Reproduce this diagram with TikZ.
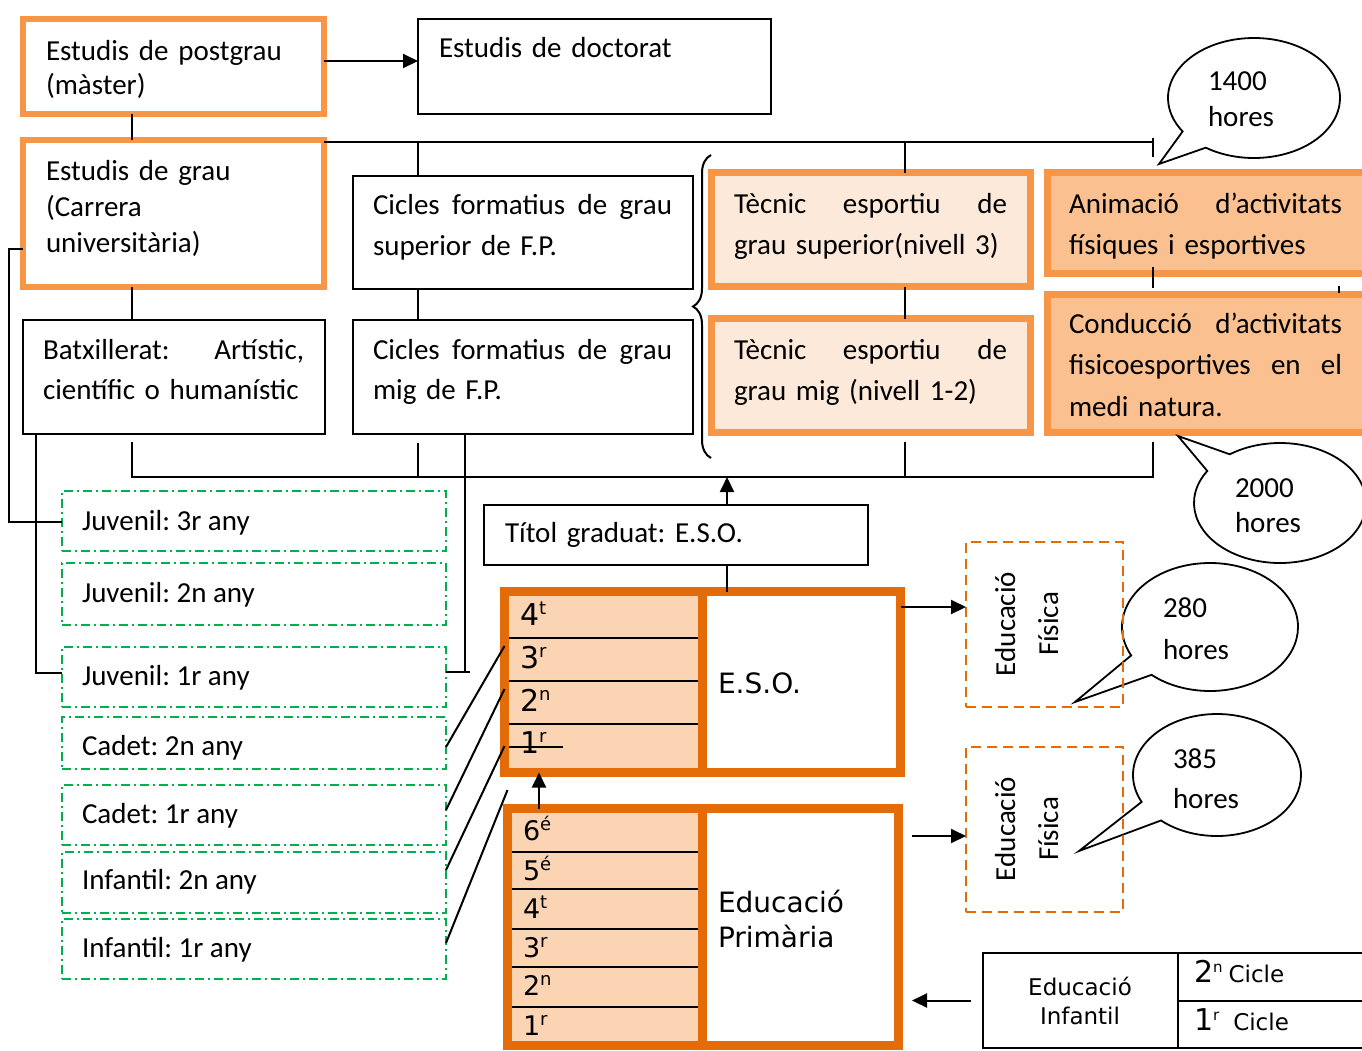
\documentclass[tikz,border=0pt]{standalone}
\usepackage{fontspec}
\setmainfont{Carlito}
\newfontfamily\verd{DejaVu Sans}
\usetikzlibrary{arrows.meta,shapes.callouts,decorations.pathreplacing,calc}
\definecolor{orL}{HTML}{F79646}
\definecolor{orD}{HTML}{E36C09}
\definecolor{pkL}{HTML}{FDE9D9}
\definecolor{pkM}{HTML}{FAC08F}
\definecolor{pkE}{HTML}{FBD4B4}
\definecolor{grn}{HTML}{00B050}
\newcommand\fs[2]{\fontsize{#1}{#2}\selectfont}
% raised ordinal suffix
\newcommand\sy[2][11pt]{\raisebox{#1}{\fs{18}{18}#2}}
% line spread to a fixed width
\newcommand\jline[2]{\leavevmode\hbox to #1{#2}}
\begin{document}
\frenchspacing
\lineskiplimit=-60pt
\begin{tikzpicture}[x=1pt,y=-1pt,
  font=\fs{29}{36},
  plain/.style={draw=black,line width=2pt,inner sep=0pt,outer sep=0pt,fill=white},
  orbox/.style={draw=orL,line width=6pt,inner sep=0pt,outer sep=0pt,fill=white},
  tbox/.style={draw=orL,line width=7pt,inner sep=0pt,outer sep=0pt,fill=pkL},
  abox/.style={draw=orL,line width=7pt,inner sep=0pt,outer sep=0pt,fill=pkM},
  ebox/.style={draw=orD,line width=9pt,inner sep=0pt,outer sep=0pt,fill=white},
  efbox/.style={draw=orD,line width=2pt,dash pattern=on 10pt off 6pt,inner sep=0pt,outer sep=0pt},
  gbox/.style={draw=grn,line width=2pt,dash pattern=on 9pt off 4pt on 2pt off 4pt,inner sep=0pt,outer sep=0pt,minimum width=384pt},
  bubble/.style={ellipse callout,draw=black,line width=1.8pt,fill=white,inner sep=0pt,outer sep=0pt,callout pointer arc=22},
  txt/.style={inner sep=0pt,outer sep=0pt,anchor=base west,text width=330pt},
  gtxt/.style={inner sep=0pt,outer sep=0pt,anchor=base west},
  vtxt/.style={inner sep=0pt,outer sep=0pt,anchor=base west,font=\verd\fs{30}{36}},
  ptxt/.style={inner sep=0pt,outer sep=0pt,anchor=base west,font=\verd\fs{27}{36}},
  rtxt/.style={inner sep=0pt,outer sep=0pt,anchor=base,rotate=90},
  wire/.style={line width=2pt},
  arr/.style={line width=2pt,-{Triangle[length=15pt,width=14pt]}},
]
\useasboundingbox (0,0) rectangle (1362,1050);
\clip (0,0) rectangle (1362,1050);

% ---------- upper boxes ----------
\node[orbox,minimum width=301pt,minimum height=95pt] (post) at (173.5,66.5) {};
\node[plain,minimum width=353pt,minimum height=95pt] (doct) at (594.5,66.5) {};
\node[orbox,minimum width=301pt,minimum height=147pt] (grau) at (173.5,213.5) {};
\node[plain,minimum width=340pt,minimum height=113pt] (cfs) at (523,232.5) {};
\node[plain,minimum width=340pt,minimum height=114pt] (cfm) at (523,377) {};
\node[plain,minimum width=302pt,minimum height=114pt] (batx) at (174,377) {};
\node[tbox,minimum width=319pt,minimum height=114pt] (tsup) at (871,229.5) {};
\node[tbox,minimum width=319pt,minimum height=114pt] (tmig) at (871,375.5) {};
\node[abox,minimum width=333pt,minimum height=101pt] (anim) at (1214,223) {};
\node[abox,minimum width=333pt,minimum height=138pt] (cond) at (1214,363.5) {};
\node[plain,minimum width=384pt,minimum height=60pt] (titol) at (676,535) {};

\node[txt,font=\fs{29}{34}] (tpost) at (46,60) {Estudis de postgrau\\(màster)};
\node[txt] (tdoct) at (439,57) {Estudis de doctorat};
\node[txt,font=\fs{29}{36}] (tgrau) at (46,180) {Estudis de grau\\(Carrera\\universitària)};
\node[txt,font=\fs{29}{41}] (tcfs) at (373,214) {\jline{299pt}{Cicles\hfill formatius\hfill de\hfill grau}\\superior de F.P.};
\node[txt,font=\fs{29}{40}] (tcfm) at (373,359) {\jline{299pt}{Cicles\hfill formatius\hfill de\hfill grau}\\mig de F.P.};
\node[txt,font=\fs{29}{40}] (tbatx) at (43,359) {\jline{261pt}{Batxillerat:\hfill Artístic,}\\científic o humanístic};
\node[txt,font=\fs{29}{41}] (ttsup) at (734,213) {\jline{273pt}{Tècnic\hfill esportiu\hfill de}\\grau superior(nivell 3)};
\node[txt,font=\fs{29}{41}] (ttmig) at (734,359) {\jline{273pt}{Tècnic\hfill esportiu\hfill de}\\grau mig (nivell 1-2)};
\node[txt,font=\fs{29}{41}] (tanim) at (1069,213) {\jline{273pt}{Animació\hfill d’activitats}\\físiques i esportives};
\node[txt,font=\fs{29}{41.5}] (tcond) at (1069,333) {\jline{273pt}{Conducció\hfill d’activitats}\\\jline{273pt}{fisicoesportives\hfill en\hfill el}\\medi natura.};
\node[txt] (ttitol) at (505,542) {Títol graduat: E.S.O.};

% ---------- connectors of the upper part ----------
\draw[arr] (post.east |- 0,61) -- (doct.west |- 0,61);
\draw[wire] (post.south -| 132,0) -- (grau.north -| 132,0);
\draw[wire] (grau.east |- 0,142) -- (1153,142);
\draw[wire] (1153,138) -- (1153,157);
\draw[wire] (418,142) -- (cfs.north -| 418,0);
\draw[wire] (905,142) -- (tsup.north -| 905,0);
\draw[wire] (grau.south -| 132,0) -- (batx.north -| 132,0);
\draw[wire] (cfs.south -| 418,0) -- (cfm.north -| 418,0);
\draw[wire] (tsup.south -| 905,0) -- (tmig.north -| 905,0);
\draw[wire] (1153,267) -- (1153,288);
\draw[wire] (1339,286) -- (1339,293);
\draw[line width=2pt,decorate,decoration={brace,amplitude=18pt}] (711,458) -- (711,155);

% lower bus
\coordinate (busL) at (132,477);
\coordinate (busR) at (1153,477);
\draw[wire] (132,442) -- (busL) -- (busR) -- (1153,442);
\draw[wire] (418,443) -- (418,477);
\draw[wire] (905,442) -- (905,477);
\draw[arr] (titol.north -| 727,0) -- (727,477);

% ---------- E.S.O. ----------
\node[ebox,minimum width=396pt,minimum height=181pt] (eso) at (702.5,682) {};
\fill[pkE] (509,596) rectangle (698,768);
\fill[orD] (698,596) rectangle (707,768);
\foreach \yy in {638,681,724} \draw[wire] (509,\yy) -- (698,\yy);
\node[vtxt] (e4) at (520,625) {4\sy{t}};
\node[vtxt] (e3) at (520,668) {3\sy{r}};
\node[vtxt] (e2) at (520,711) {2\sy{n}};
\node[vtxt] (e1) at (520,753) {1\sy{r}};
\draw[wire] (509,747) -- (563,747);
\node[vtxt,font=\verd\fs{28}{36}] (teso) at (718,693) {E.S.O.};
\draw[wire] (titol.south -| 727,0) -- (eso.north -| 727,0);

% ---------- Educació Primària ----------
\node[ebox,minimum width=391pt,minimum height=237pt] (prim) at (703,927) {};
\fill[pkE] (512,813) rectangle (698,1041);
\fill[orD] (698,813) rectangle (707,1041);
\foreach \yy in {852,889,929,967,1007} \draw[wire] (512,\yy) -- (698,\yy);
\node[ptxt] (p6) at (523,840) {6\sy[10pt]{é}};
\node[ptxt] (p5) at (523,880) {5\sy[10pt]{é}};
\node[ptxt] (p4) at (523,918) {4\sy[10pt]{t}};
\node[ptxt] (p3) at (523,957) {3\sy[10pt]{r}};
\node[ptxt] (p2) at (523,995) {2\sy[10pt]{n}};
\node[ptxt] (p1) at (523,1035) {1\sy[10pt]{r}};
\node[txt,font=\verd\fs{28}{35}] (tprim) at (718,912) {Educació\\Primària};
\draw[arr] (prim.north -| 539,0) -- (eso.south -| 539,0);

% ---------- Educació Infantil ----------
\node[plain,minimum width=195pt,minimum height=95pt] (inf) at (1080.5,1000.5) {};
\node[plain,minimum width=222pt,minimum height=48pt] (cy2) at (1289,977) {};
\node[plain,minimum width=222pt,minimum height=47pt] (cy1) at (1289,1024.5) {};
\node[inner sep=0pt,anchor=base,align=center,text width=160pt,font=\verd\fs{23}{29}] (tinf) at (1080,995) {Educació\\Infantil};
\node[gtxt,font=\verd\fs{30}{30}] (tc2) at (1194,982) {2\sy[10pt]{\fs{15}{15}n}\hspace{6pt}{\fs{23}{23}Cicle}};
\node[gtxt,font=\verd\fs{30}{30}] (tc1) at (1194,1030) {1\sy[10pt]{\fs{15}{15}r}\hspace{14pt}{\fs{23}{23}Cicle}};
\draw[arr] ([xshift=-12pt]inf.west) -- (inf.west -| 912,0);

% ---------- speech bubbles ----------
\node[bubble,minimum width=172pt,minimum height=120pt,callout absolute pointer={(1159,164)}] (b1400) at (1254,98) {};
\node[bubble,minimum width=172pt,minimum height=120pt,callout absolute pointer={(1178,436)}] (b2000) at (1280,503) {};
\node[bubble,minimum width=176pt,minimum height=128pt,callout absolute pointer={(1075,702)}] (b280) at (1210,627) {};
\node[bubble,minimum width=168pt,minimum height=122pt,callout absolute pointer={(1079,851)}] (b385) at (1217,775) {};
\node[txt,font=\fs{29}{36}] (t1400) at (1208,90) {1400\\hores};
\node[txt,font=\fs{29}{35}] (t2000) at (1235,497) {2000\\hores};
\node[txt,font=\fs{29}{42}] (t280) at (1163,617) {280\\hores};
\node[txt,font=\fs{29}{40}] (t385) at (1173,768) {385\\hores};

% ---------- Educació Física ----------
\node[efbox,minimum width=157pt,minimum height=165pt] (ef1) at (1044.5,624.5) {};
\node[efbox,minimum width=157pt,minimum height=165pt] (ef2) at (1044.5,829.5) {};
\node[rtxt] (ef1a) at (1015,624) {Educació};
\node[rtxt] (ef1b) at (1058,624) {Física};
\node[rtxt] (ef2a) at (1015,829) {Educació};
\node[rtxt] (ef2b) at (1058,829) {Física};
\draw[arr] (eso.east |- 0,607) -- (ef1.west |- 0,607);
\draw[arr] (912,836) -- (ef2.west |- 0,836);

% ---------- sport categories ----------
\node[gbox,minimum height=60pt] (j3) at (254,521) {};
\node[gbox,minimum height=62pt] (j2) at (254,594) {};
\node[gbox,minimum height=60pt] (j1) at (254,677) {};
\node[gbox,minimum height=52pt] (c2) at (254,743) {};
\node[gbox,minimum height=60pt] (c1) at (254,815) {};
\node[gbox,minimum height=61pt] (i2) at (254,882.5) {};
\node[gbox,minimum height=60pt] (i1) at (254,949) {};
\node[gtxt] (lj3) at (82,530) {Juvenil: 3r any};
\node[gtxt] (lj2) at (82,602) {Juvenil: 2n any};
\node[gtxt] (lj1) at (82,685) {Juvenil: 1r any};
\node[gtxt] (lc2) at (82,755) {Cadet: 2n any};
\node[gtxt] (lc1) at (82,823) {Cadet: 1r any};
\node[gtxt] (li2) at (82,889) {Infantil: 2n any};
\node[gtxt] (li1) at (82,957) {Infantil: 1r any};

\draw[wire] (grau.west |- 0,249) -| (9,522) -- (j3.west |- 0,522);
\draw[wire] (batx.south -| 36,0) |- (j1.west |- 0,673);
\draw[wire] (cfm.south -| 465,0) -- (465,672);
\draw[wire] (j1.east |- 0,672) -- (470,672);
\draw[wire] (c2.east |- 0,747) -- (eso.west |- 499,646);
\draw[wire] (c1.east |- 0,810) -- (eso.west |- 499,689);
\draw[wire] (i2.east |- 0,870) -- (eso.west |- 499,746);
\draw[wire] (i1.east |- 0,943) -- (prim.west |- 499,790);
\end{tikzpicture}
\end{document}
